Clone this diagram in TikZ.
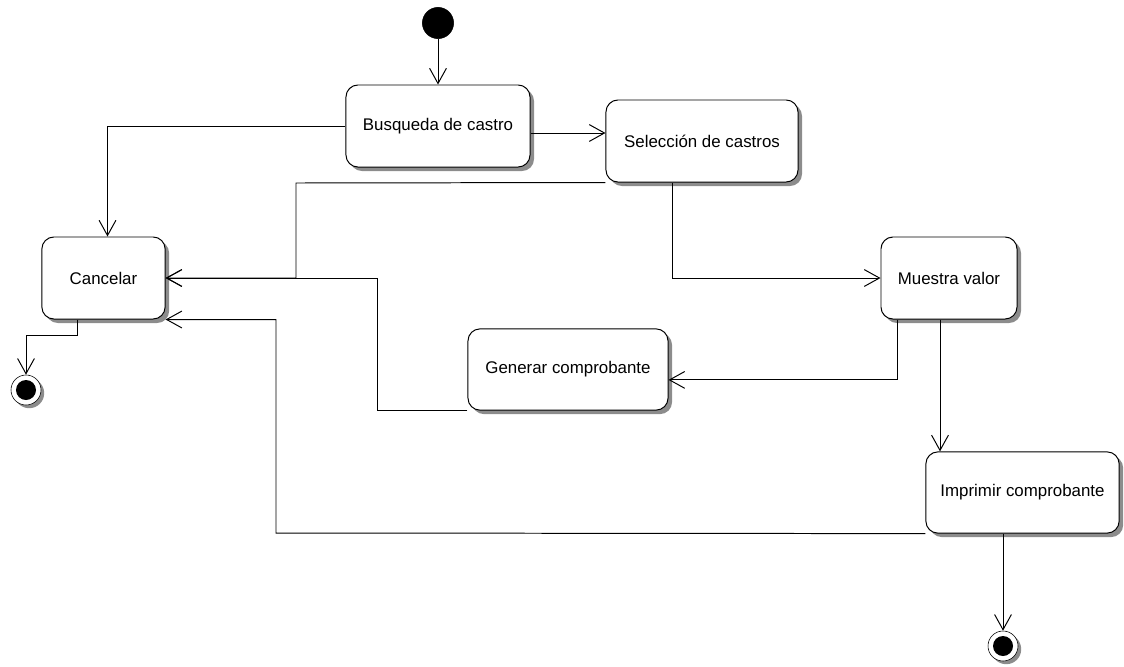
\documentclass[tikz,border=0pt]{standalone}
\usepackage{fontspec}
\setmainfont{Liberation Sans}
\usetikzlibrary{arrows.meta,shadows}

\tikzset{
  state/.style={draw, rectangle, rounded corners=0.3cm, fill=white, line width=0.7pt,
    font=\fontsize{12}{14}\selectfont, inner sep=0pt,
    drop shadow={shadow xshift=0.1cm, shadow yshift=-0.1cm, fill=gray!90, opacity=1}},
  startstate/.style={draw, circle, fill=black, minimum size=0.78cm, inner sep=0pt},
  endstate/.style={draw, circle, fill=white, minimum size=0.75cm, inner sep=0pt,
    drop shadow={shadow xshift=0.08cm, shadow yshift=-0.08cm, fill=gray!90, opacity=1},
    path picture={\fill[black] (path picture bounding box.center) circle (0.25cm);}},
  flow/.style={line width=0.7pt, -{Straight Barb[length=0.38cm,width=0.42cm]}}
}

\begin{document}
\begin{tikzpicture}[x=0.025cm,y=-0.025cm]
\useasboundingbox (0,0) rectangle (1124,666);
\node[startstate] (start) at (438,23) {};
\node[state, minimum width=4.6cm, minimum height=2.05cm] (busq) at (438,126) {Busqueda de castro};
\node[state, minimum width=4.8cm, minimum height=2.05cm] (selec) at (702,141) {Selección de castros};
\node[state, minimum width=3.08cm, minimum height=2.05cm] (cancel) at (103.5,278) {Cancelar};
\node[state, minimum width=3.4cm, minimum height=2.05cm] (muestra) at (949,278) {Muestra valor};
\node[state, minimum width=5cm, minimum height=2.03cm] (generar) at (568,369.5) {Generar comprobante};
\node[state, minimum width=4.83cm, minimum height=2.03cm] (imprimir) at (1022.5,492.5) {Imprimir comprobante};
\node[endstate] (end1) at (26,390) {};
\node[endstate] (end2) at (1003,646) {};
\coordinate (j1) at (296,183); \coordinate (j2) at (377,278); \coordinate (j3) at (276,533);

\draw[flow] (start) -- (busq);
\draw[flow] (busq.west) -| ([xshift=0.1cm]cancel.north);
\draw[flow] ([yshift=-0.175cm]busq.east) -- ([yshift=-0.175cm]busq.east -| selec.west);
\draw[flow] (selec.south west) -- (j1) |- (cancel.east);
\draw[flow] ([xshift=-0.75cm]selec.south) |- (muestra.west);
\draw[flow] ([xshift=-1.3cm]muestra.south) |- ([yshift=-0.26cm]generar.east);
\draw[flow] (generar.south west) -| (j2) -- (cancel.east);
\draw[flow] ([xshift=-0.225cm]muestra.south) coordinate (m2) -- (m2 |- imprimir.north);
\draw[flow] (imprimir.south west) -- (j3) |- (cancel.south east);
\draw[flow] ([xshift=-0.66cm]cancel.south) -- ++(0,16) -| (end1);
\draw[flow] (end2 |- imprimir.south) -- (end2);
\end{tikzpicture}
\end{document}
